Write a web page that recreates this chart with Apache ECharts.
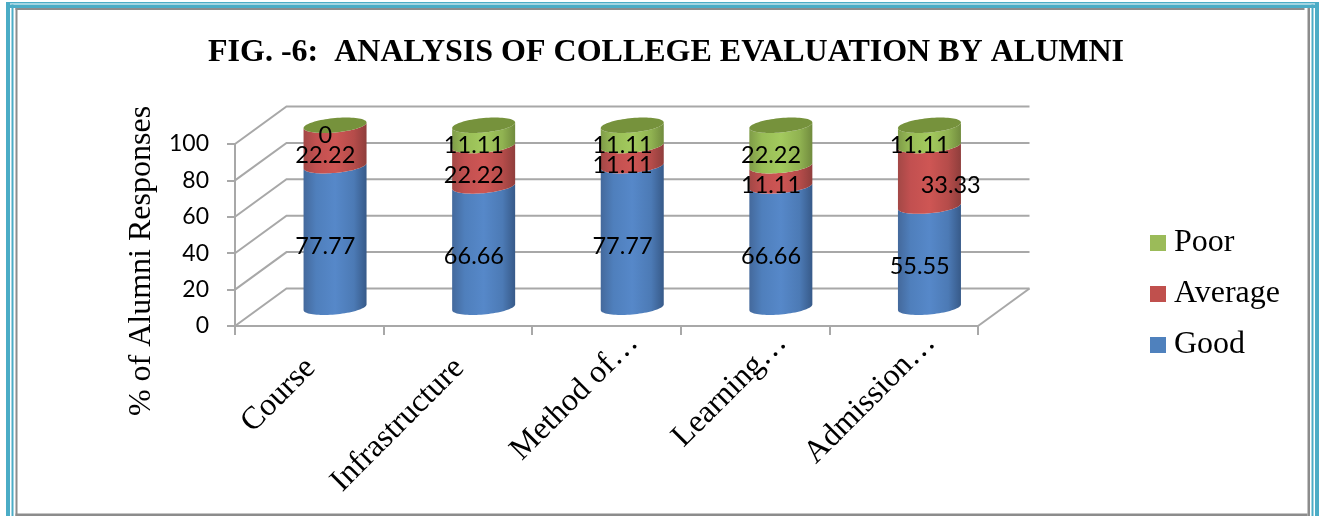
<!DOCTYPE html>
<html>
<head>
<meta charset="utf-8">
<style>html,body{margin:0;padding:0;background:#fff}#c{width:1320px;height:516px}</style>
<script src="https://cdn.jsdelivr.net/npm/echarts@6/dist/echarts.min.js"></script>
</head>
<body>
<div id="c"></div>
<script>
const categories = ['Course', 'Infrastructure', 'Method of…', 'Learning…', 'Admission…'];
const good = [77.77, 66.66, 77.77, 66.66, 55.55];
const average = [22.22, 22.22, 11.11, 11.11, 33.33];
const poor = [0, 11.11, 11.11, 22.22, 11.11];
const yTicks = [0, 20, 40, 60, 80, 100];

const DEPTH_X = 51.5, DEPTH_Y = -37.5;
const RX = 31.5, RY = 7.2, TILT = 2.8;
const LABEL_DX = 16, LABEL_DY = -9;
const LABEL_FONT = 'Lato';
const SERIF = '"Liberation Serif"';
const AXIS_GREY = '#a8a8a8';

function shade(stops) {
  return {type: 'linear', x: 0, y: 0, x2: 1, y2: 0,
    colorStops: stops.map((c, i) => ({offset: [0, .2, .5, .8, 1][i], color: c}))};
}
const blueShade = shade(['#44699c', '#4f7fbc', '#5688c9', '#4c7ab5', '#375a89']);
const redShade = shade(['#a34846', '#c25050', '#ce5654', '#b54c4a', '#8f3e3c']);
const greenShade = shade(['#7f9c48', '#98bd56', '#a3ca5e', '#90b251', '#718b3e']);
const CAP = '#76923c';

function frontArc(cx, cy, reverse) {
  const pts = [];
  for (let i = 0; i <= 40; i++) {
    const t = Math.PI * (1 - i / 40);
    pts.push([cx + RX * Math.cos(t), cy + RY * Math.sin(t) - TILT * Math.cos(t)]);
  }
  return reverse ? pts.reverse() : pts;
}
function ring(cx, cy) {
  const pts = [];
  for (let i = 0; i < 80; i++) {
    const t = 2 * Math.PI * i / 80;
    pts.push([cx + RX * Math.cos(t), cy + RY * Math.sin(t) - TILT * Math.cos(t)]);
  }
  return pts;
}

function cylinderSeries(name, values, bases, fill, flat, withCap, labelShift) {
  return {
    type: 'custom', name, coordinateSystem: 'cartesian2d',
    itemStyle: {color: flat}, z: 3, silent: true,
    encode: {x: 0, y: [1, 2]},
    data: values.map((v, i) => [i, bases[i], bases[i] + v, v]),
    renderItem(params, api) {
      const idx = api.value(0), from = api.value(1), to = api.value(2), v = api.value(3);
      const a = api.coord([idx, from]), b = api.coord([idx, to]);
      const cx = a[0] + DEPTH_X / 2, y0 = a[1] + DEPTH_Y / 2, y1 = b[1] + DEPTH_Y / 2;
      const children = [];
      if (v > 0) {
        children.push({type: 'polygon', z2: 1,
          shape: {points: frontArc(cx, y0, false).concat(frontArc(cx, y1, true))},
          style: {fill}});
      }
      if (withCap) {
        children.push({type: 'polygon', z2: 2, shape: {points: ring(cx, y1)}, style: {fill: CAP}});
      }
      const mid = api.coord([idx, (from + to) / 2]);
      const shift = labelShift[idx] || 0;
      children.push({type: 'text', z2: 100, style: {
        text: String(v), x: mid[0] + LABEL_DX + shift, y: mid[1] + LABEL_DY,
        align: 'center', verticalAlign: 'middle',
        font: '23.5px ' + LABEL_FONT, fill: '#000'}});
      return {type: 'group', children};
    }
  };
}

const goodBase = good.map(() => 0);
const avgBase = good.slice();
const poorBase = good.map((g, i) => g + average[i]);

const wallSeries = {
  type: 'custom', name: 'wall', coordinateSystem: 'cartesian2d', silent: true, z: 1,
  encode: {y: 1},
  data: yTicks.map(t => [0, t]),
  renderItem(params, api) {
    const band = api.size([1, 0])[0];
    const v = api.value(1);
    const p = api.coord([0, v]);
    const left = p[0] - band / 2;
    const right = left + band * categories.length;
    const lines = [[[left, p[1]], [left + DEPTH_X, p[1] + DEPTH_Y], [right + DEPTH_X, p[1] + DEPTH_Y]]];
    if (v === 0) lines.push([[right, p[1]], [right + DEPTH_X, p[1] + DEPTH_Y]]);
    return {type: 'group', children: lines.map(points => ({
      type: 'polyline', shape: {points},
      style: {stroke: AXIS_GREY, lineWidth: 2, fill: null}}))};
  }
};

const TEAL = '#4bacc6', GREY = '#8c8c8c';
const W = 1320, H = 516;
const bars = [
  [6, 2, W - 7, 1.5, TEAL], [6, 4.5, W - 7, 3.5, TEAL], [15.5, 8, W - 31, 2, GREY],
  [6, 2, 4, H, TEAL], [11.5, 4.5, 2, H, TEAL], [15.5, 8, 2, H, GREY],
  [W - 5, 2, 4, H, TEAL], [W - 8.5, 4.5, 2, H, TEAL], [W - 12.5, 8, 2.5, H, GREY],
  [15.5, H - 2.5, W - 28, 2.5, GREY]
];

const xLabelBase = {fontFamily: SERIF, fontSize: 32, color: '#000'};

const chart = echarts.init(document.getElementById('c'), null, {renderer: 'canvas'});
chart.setOption({
  backgroundColor: '#fff',
  animation: false,
  color: ['#4f81bd', '#c0504d', '#9bbb59'],
  title: {
    text: 'FIG. -6:  ANALYSIS OF COLLEGE EVALUATION BY ALUMNI',
    left: 203, top: 32,
    textStyle: {fontFamily: SERIF, fontWeight: 'bold', fontSize: 32, color: '#000'}
  },
  legend: {
    data: ['Poor', 'Average', 'Good'],
    orient: 'vertical', left: 1145, top: 222,
    icon: 'rect', itemWidth: 16, itemHeight: 16, itemGap: 19,
    textStyle: {fontFamily: SERIF, fontSize: 32, color: '#000', padding: [0, 0, 0, 3]},
    selectedMode: false
  },
  grid: {left: 235, top: 144, width: 743, height: 182, containLabel: false},
  xAxis: {
    type: 'category', data: categories,
    axisLine: {show: true, lineStyle: {color: AXIS_GREY, width: 2}},
    axisTick: {show: true, length: 9, alignWithLabel: false, lineStyle: {color: AXIS_GREY, width: 2}},
    axisLabel: {
      interval: 0, rotate: 45, margin: -15, ...xLabelBase,
      formatter: v => (v.endsWith('…') ? '{far|' : '{near|') + v + '}',
      rich: {
        near: {...xLabelBase, padding: [76, 36, 0, 0]},
        far: {...xLabelBase, padding: [76, 0, 0, 0]}
      }
    }
  },
  yAxis: {
    type: 'value', min: 0, max: 100, interval: 20,
    name: '% of Alumni Responses', nameLocation: 'middle', nameGap: 76, nameRotate: 90,
    nameTextStyle: {fontFamily: SERIF, fontSize: 32, color: '#000', padding: [0, 52, 0, 0]},
    axisLine: {show: true, lineStyle: {color: AXIS_GREY, width: 2}},
    axisTick: {show: true, length: 8, lineStyle: {color: AXIS_GREY, width: 2}},
    axisLabel: {margin: 26, padding: [4, 0, 0, 0], fontFamily: LABEL_FONT, fontSize: 23, color: '#000'},
    splitLine: {show: false}
  },
  graphic: bars.map(b => ({type: 'rect', silent: true,
    shape: {x: b[0], y: b[1], width: b[2], height: b[3]}, style: {fill: b[4]}})),
  series: [
    wallSeries,
    cylinderSeries('Good', good, goodBase, blueShade, '#4f81bd', false, {}),
    cylinderSeries('Average', average, avgBase, redShade, '#c0504d', false, {4: 31}),
    cylinderSeries('Poor', poor, poorBase, greenShade, '#9bbb59', true, {})
  ]
});
</script>
</body>
</html>
